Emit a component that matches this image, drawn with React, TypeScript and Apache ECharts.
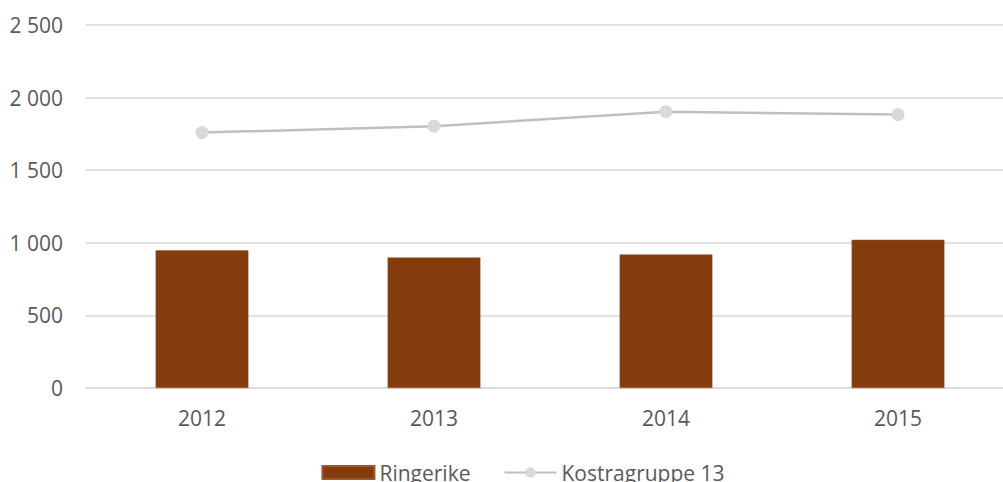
import React, { useEffect, useRef } from "react";
import * as echarts from "echarts";

const categories = ["2012", "2013", "2014", "2015"];
const ringerike = [948, 899, 920, 1021];
const kostragruppe13 = [1759, 1803, 1903, 1883];
const yMin = 0;
const yMax = 2500;
const yInterval = 500;

const fmt = (v: number) => String(v).replace(/\B(?=(\d{3})+(?!\d))/g, " ");

export default function App() {
  const ref = useRef<HTMLDivElement>(null);
  useEffect(() => {
    if (!ref.current) return;
    const chart = echarts.init(ref.current, undefined, { renderer: "svg" });
    const font = "'Open Sans', sans-serif";
    chart.setOption({
      animation: false,
      backgroundColor: "#ffffff",
      textStyle: { fontFamily: font },
      grid: { left: 86, right: 32, top: 25, bottom: 94 },
      legend: {
        left: "center",
        top: 457,
        itemWidth: 52,
        itemHeight: 13,
        itemGap: 33,
        textStyle: { fontSize: 21, color: "#595959", fontFamily: font },
        data: [
          { name: "Ringerike", icon: "rect" },
          { name: "Kostragruppe 13" },
        ],
      },
      xAxis: {
        type: "category",
        data: categories,
        axisLine: { lineStyle: { color: "#D9D9D9", width: 1.5 } },
        axisTick: { show: false },
        axisLabel: { color: "#595959", fontSize: 21, margin: 19, fontFamily: font },
      },
      yAxis: {
        type: "value",
        min: yMin,
        max: yMax,
        interval: yInterval,
        axisLine: { show: false },
        axisTick: { show: false },
        splitLine: { lineStyle: { color: "#D9D9D9", width: 1.5 } },
        axisLabel: {
          color: "#595959",
          fontSize: 21,
          margin: 23,
          fontFamily: font,
          formatter: (v: number) => fmt(v),
        },
      },
      series: [
        {
          name: "Ringerike",
          type: "bar",
          data: ringerike,
          barWidth: "40%",
          itemStyle: { color: "#843C0C", borderColor: "#9A5A30", borderWidth: 0.5 },
        },
        {
          name: "Kostragruppe 13",
          type: "line",
          data: kostragruppe13,
          symbol: "circle",
          symbolSize: 13,
          lineStyle: { color: "#BFBFBF", width: 2.5 },
          itemStyle: { color: "#D9D9D9", borderWidth: 0 },
        },
      ],
    });
    return () => chart.dispose();
  }, []);
  return (
    <div
      style={{
        position: "fixed",
        left: 0,
        top: 0,
        width: 1003,
        height: 482,
        overflow: "hidden",
        background: "#fff",
      }}
    >
      <div ref={ref} style={{ width: 1046, height: 482 }} />
    </div>
  );
}
